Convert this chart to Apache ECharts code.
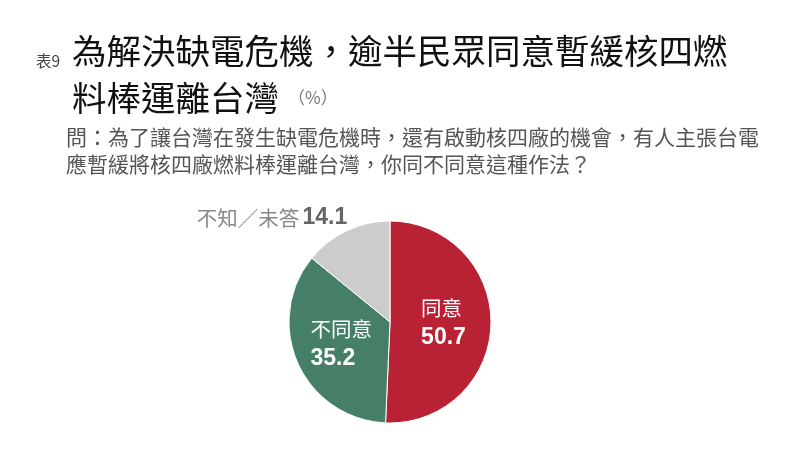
<!DOCTYPE html>
<html><head><meta charset="utf-8">
<script src="https://cdn.jsdelivr.net/npm/echarts@6/dist/echarts.min.js"></script>
<style>html,body{margin:0;padding:0;background:#fff}#c{width:792px;height:469px}</style>
</head><body><div id="c"></div>
<script>
const categories = ['同意', '不同意', '不知／未答'];
const values = [50.7, 35.2, 14.1];
const colors = ['#b82234', '#467f68', '#cccccc'];
const FONT = '"Noto Sans CJK TC", "Noto Sans", sans-serif';
const NUMFONT = '"Liberation Sans", Arial, sans-serif';

const chart = echarts.init(document.getElementById('c'));
chart.setOption({
  backgroundColor: '#fff',
  animation: false,
  graphic: [
    {type:'text', left:36, top:53, style:{text:'表9', font:'15.5px ' + FONT, fill:'#444'}},
    {type:'text', left:72, top:34, style:{text:'為解決缺電危機，逾半民眾同意暫緩核四燃', font:'34.5px ' + FONT, fill:'#111'}},
    {type:'text', left:72, top:81, style:{text:'料棒運離台灣', font:'34.5px ' + FONT, fill:'#111'}},
    {type:'text', left:288, top:89, style:{text:'（%）', font:'17px ' + FONT, fill:'#777'}},
    {type:'text', left:66, top:127, style:{text:'問：為了讓台灣在發生缺電危機時，還有啟動核四廠的機會，有人主張台電', font:'21px ' + FONT, fill:'#555'}},
    {type:'text', left:66, top:154, style:{text:'應暫緩將核四廠燃料棒運離台灣，你同不同意這種作法？', font:'21px ' + FONT, fill:'#555'}}
  ],
  series: [{
    type: 'pie',
    center: [390, 322],
    radius: 101,
    startAngle: 90,
    clockwise: true,
    itemStyle: {borderColor:'#fff', borderWidth:1},
    label: {
      position: 'inside',
      formatter: '{n|{b}}\n{v|{c}}',
      rich: {
        n: {fontFamily: FONT, fontSize: 20.5, color:'#fff', lineHeight: 29, align:'left'},
        v: {fontFamily: NUMFONT, fontSize: 23, fontWeight:'bold', color:'#fff', lineHeight: 29, align:'left'}
      }
    },
    labelLine: {show:false},
    labelLayout: function (p) {
      if (p.dataIndex === 2) return {x: 272, y: 218, align:'center', verticalAlign:'middle'};
      return {};
    },
    data: categories.map((c, i) => {
      const d = {name: c, value: values[i], itemStyle: {color: colors[i]}};
      if (i === 2) {
        d.label = {
          position: 'outside',
          formatter: '{g|{b}} {gv|{c}}',
          rich: {
            g: {fontFamily: FONT, fontSize: 20.5, color:'#888'},
            gv: {fontFamily: NUMFONT, fontSize: 23, fontWeight:'bold', color:'#666'}
          }
        };
      }
      return d;
    })
  }]
});
</script></body></html>
